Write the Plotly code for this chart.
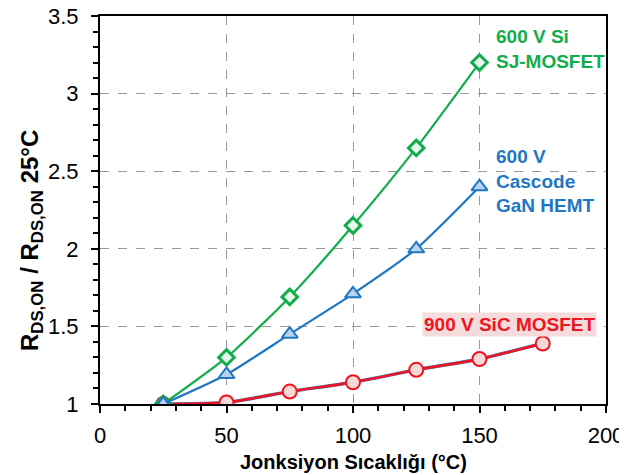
import plotly.graph_objects as go

temps_si = [25, 50, 75, 100, 125, 150]
si_vals = [1.0, 1.30, 1.69, 2.15, 2.65, 3.20]
temps_gan = [25, 50, 75, 100, 125, 150]
gan_vals = [1.0, 1.19, 1.45, 1.71, 2.00, 2.40]
temps_sic = [25, 50, 75, 100, 125, 150, 175]
sic_vals = [1.0, 1.01, 1.08, 1.14, 1.22, 1.29, 1.39]

GREEN = "#12AD4B"
BLUE = "#1F77C4"
RED = "#F0141E"
FONT = "Liberation Sans, Arial, sans-serif"

fig = go.Figure()
fig.add_trace(go.Scatter(x=temps_sic, y=sic_vals, mode="lines", line=dict(color="#4A6FC0", width=3.4, shape="spline", smoothing=0.6), hoverinfo="skip", showlegend=False))
fig.add_trace(go.Scatter(x=temps_sic, y=sic_vals, mode="lines+markers",
    line=dict(color=RED, width=2.4, shape="spline", smoothing=0.6),
    marker=dict(symbol="circle", size=14, color="#F5D8D8", line=dict(color=RED, width=2)), showlegend=False))
fig.add_trace(go.Scatter(x=temps_si, y=si_vals, mode="lines+markers",
    line=dict(color=GREEN, width=2.2, shape="spline", smoothing=0.6),
    marker=dict(symbol="diamond", size=12, color="#E8F7EC", line=dict(color=GREEN, width=3)), showlegend=False))
fig.add_trace(go.Scatter(x=temps_gan, y=gan_vals, mode="lines+markers",
    line=dict(color=BLUE, width=2.2, shape="spline", smoothing=0.6),
    marker=dict(symbol="triangle-up", size=14, color="#B9D3EE", line=dict(color=BLUE, width=2)), showlegend=False))

fig.add_annotation(x=155.7, y=3.29, xref="x", yref="y", text="600 V Si<br>SJ-MOSFET", showarrow=False,
    xanchor="left", yanchor="middle", align="left", font=dict(family=FONT, size=19, color=GREEN, weight="bold"))
fig.add_annotation(x=155.7, y=2.44, xref="x", yref="y", text="600 V<br>Cascode<br>GaN HEMT", showarrow=False,
    xanchor="left", yanchor="middle", align="left", font=dict(family=FONT, size=19, color=BLUE, weight="bold"))
fig.add_annotation(x=162, y=1.51, xref="x", yref="y", text="900 V SiC MOSFET", showarrow=False,
    xanchor="center", yanchor="middle", bgcolor="#F5DCDC", borderpad=1,
    font=dict(family=FONT, size=19, color=RED, weight="bold"))

# axis titles
fig.add_annotation(x=0.5, y=0, xref="paper", yref="paper", yshift=-58, text="Jonksiyon Sıcaklığı (°C)",
    showarrow=False, xanchor="center", yanchor="middle",
    font=dict(family=FONT, size=20, color="black", weight="bold"))
fig.add_annotation(x=0, y=0.42, xref="paper", yref="paper", xshift=-69, textangle=-90,
    text="R<sub>DS,ON</sub> / R<sub>DS,ON</sub> 25°C", showarrow=False, xanchor="center", yanchor="middle",
    font=dict(family=FONT, size=24, color="black", weight="bold"))

axis_common = dict(showline=True, linecolor="black", linewidth=2, mirror=True,
    ticks="outside", tickcolor="black", tickwidth=2, ticklen=7,
    showgrid=True, gridcolor="#999999", griddash="dash", gridwidth=1,
    zeroline=False, automargin=False, ticklabeloverflow="allow",
    tickfont=dict(family=FONT, size=22, color="black"))

fig.update_xaxes(range=[0, 200], dtick=50, tick0=0, ticklabelstandoff=4,
    minor=dict(dtick=10, ticks="outside", ticklen=5, tickcolor="black", tickwidth=2, showgrid=False),
    **axis_common)
fig.update_yaxes(range=[1, 3.5], dtick=0.5, tick0=1, ticklabelstandoff=8,
    minor=dict(dtick=0.1, ticks="outside", ticklen=5, tickcolor="black", tickwidth=2, showgrid=False),
    **axis_common)

fig.update_layout(width=619, height=467, margin=dict(l=92, r=21, t=8, b=71),
    plot_bgcolor="white", paper_bgcolor="white", font=dict(family=FONT))

fig.write_html("out.html")
